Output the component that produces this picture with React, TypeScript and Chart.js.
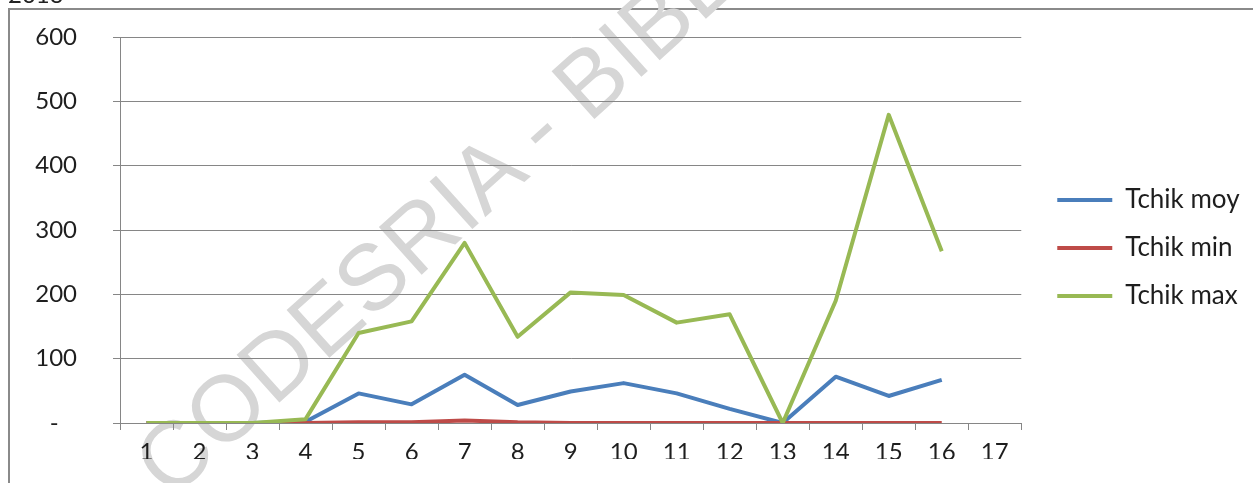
import React, { useEffect, useRef } from "react";
import { Chart, registerables } from "chart.js";

Chart.register(...registerables);

const categories = ["1", "2", "3", "4", "5", "6", "7", "8", "9", "10", "11", "12", "13", "14", "15", "16", "17"];
const tchikMoy = [0, 0, 0, 2, 46, 29, 75, 28, 49, 62, 46, 22, 0, 72, 42, 67];
const tchikMin = [0, 0, 0, 0, 1, 1, 4, 1, 0, 0, 0, 0, 0, 0, 0, 0];
const tchikMax = [0, 0, 0, 6, 140, 158, 280, 134, 203, 199, 156, 169, 0, 190, 479, 267];
const seriesNames = ["Tchik moy", "Tchik min", "Tchik max"];
const yTicks = [0, 100, 200, 300, 400, 500, 600];

const FONT = "Lato";
const GRID = "#868686";
const TEXT = "#1e1e1e";
const CANVAS_W = 1243;
const CANVAS_H = 473;
const LEGEND_FONT = 26;
const LEGEND_PAD = 22;
const LEGEND_LINE = 55;
const LEGEND_LEFT = 1026;
const PLOT_RIGHT = 1012;

export default function App() {
  const ref = useRef<HTMLCanvasElement | null>(null);

  useEffect(() => {
    if (!ref.current) return;
    const m = document.createElement("canvas").getContext("2d") as CanvasRenderingContext2D;
    m.font = `${LEGEND_FONT}px ${FONT}`;
    const textW = Math.max(...seriesNames.map((n) => m.measureText(n).width));
    const legendW = LEGEND_PAD + LEGEND_LINE + LEGEND_FONT / 2 + textW;
    const padRight = Math.max(0, CANVAS_W - LEGEND_LEFT - legendW);

    const chart = new Chart(ref.current, {
      type: "line",
      data: {
        labels: categories,
        datasets: [
          { label: seriesNames[0], data: tchikMoy, borderColor: "#4A7EBB", backgroundColor: "#4A7EBB", borderWidth: 4, order: 2 },
          { label: seriesNames[1], data: tchikMin, borderColor: "#BE4B48", backgroundColor: "#BE4B48", borderWidth: 4, order: 1 },
          { label: seriesNames[2], data: tchikMax, borderColor: "#98B954", backgroundColor: "#98B954", borderWidth: 4, order: 0 },
        ],
      },
      options: {
        responsive: false,
        animation: false,
        events: [],
        elements: {
          point: { radius: 0, hoverRadius: 0 },
          line: { tension: 0, borderJoinStyle: "round", borderCapStyle: "butt", fill: false },
        },
        layout: { padding: { top: 27, bottom: 24, left: 0, right: padRight } },
        plugins: {
          tooltip: { enabled: false },
          title: { display: false },
          legend: {
            display: true,
            position: "right",
            labels: {
              usePointStyle: true,
              pointStyle: "line",
              pointStyleWidth: LEGEND_LINE,
              padding: LEGEND_PAD,
              color: TEXT,
              font: { family: FONT, size: LEGEND_FONT },
              sort: (a: any, b: any) => a.datasetIndex - b.datasetIndex,
            },
          },
        },
        scales: {
          x: {
            type: "category",
            offset: true,
            grid: { display: true, offset: true, drawOnChartArea: false, drawTicks: true, tickLength: 7, color: GRID },
            border: { display: true, color: GRID },
            ticks: { color: TEXT, font: { family: FONT, size: 24 }, padding: 8, maxRotation: 0, autoSkip: false },
            afterFit: (s: any) => { s.height = 36; s.paddingLeft = 0; s.paddingRight = 0; },
          },
          y: {
            type: "linear",
            position: "left",
            min: 0,
            max: 600,
            grid: { color: GRID, lineWidth: 1, drawTicks: true, tickLength: 7 },
            border: { display: true, color: GRID },
            afterBuildTicks: (s: any) => { s.ticks = yTicks.map((v) => ({ value: v })); },
            ticks: {
              color: TEXT,
              font: { family: FONT, size: 24 },
              padding: 36,
              callback: (v: any) => (Number(v) === 0 ? "-   " : String(v)),
            },
            afterFit: (s: any) => { s.width = 110; s.paddingTop = 0; s.paddingBottom = 0; },
          },
          spacer: {
            type: "linear",
            position: "right",
            display: true,
            grid: { display: false, drawTicks: false },
            border: { display: false },
            ticks: { display: false },
            afterFit: (s: any) => { s.width = LEGEND_LEFT - PLOT_RIGHT; s.paddingTop = 0; s.paddingBottom = 0; },
          },
        },
      },
    } as any);
    return () => chart.destroy();
  }, []);

  return (
    <>
      <div
        style={{
          position: "fixed",
          left: 8,
          top: -18,
          fontFamily: FONT,
          fontSize: 24,
          lineHeight: 1,
          color: "#222",
        }}
      >
        2013
      </div>
      <div
        style={{
          position: "fixed",
          left: 8,
          top: 8,
          width: 1245,
          height: 475,
          borderLeft: "2px solid #8a8a8a",
          borderTop: "2px solid #8a8a8a",
          boxSizing: "border-box",
          background: "#ffffff",
        }}
      />
      <div
        style={{
          position: "fixed",
          left: 118,
          top: 443,
          fontFamily: "Liberation Sans",
          fontSize: 93,
          lineHeight: 1,
          color: "#d6d6d6",
          whiteSpace: "nowrap",
          transformOrigin: "0 0",
          transform: "rotate(-42deg)",
        }}
      >
        CODESRIA - BIBLIOTHEQUE
      </div>
      <canvas
        ref={ref}
        width={CANVAS_W}
        height={CANVAS_H}
        style={{ position: "fixed", left: 10, top: 10, width: CANVAS_W, height: CANVAS_H }}
      />
    </>
  );
}
